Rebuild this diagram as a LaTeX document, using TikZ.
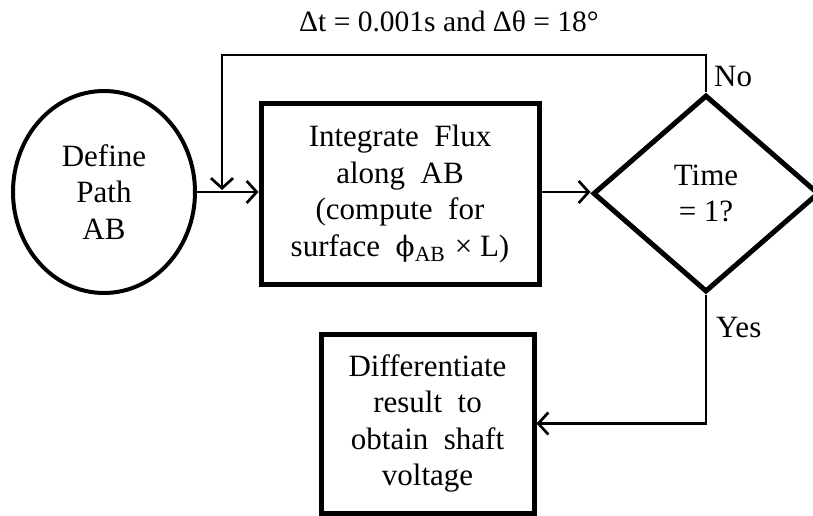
\documentclass[tikz,border=0pt]{standalone}
\usepackage{fontspec}
\setmainfont{Liberation Serif}
\newfontfamily\phifont{DejaVu Serif}
\usetikzlibrary{shapes.geometric,arrows.meta}
\begin{document}
\begin{tikzpicture}[x=1pt,y=-1pt,
  every node/.style={font=\fontsize{31}{36.5}\selectfont, inner sep=0pt},
  boxtxt/.style={draw, line width=5pt, align=center, execute at begin node={\spaceskip=0.5em plus 0.1em}},
  conn/.style={line width=2.7pt, line join=miter},
  arr/.style={conn, -{Straight Barb[length=10pt,width=22pt,line width=2.7pt]}}]
\useasboundingbox (0,0) rectangle (813,516);
\node[draw, ellipse, line width=4pt, minimum width=182pt, minimum height=202pt, align=center] (ell) at (104,192) {Define\\Path\\AB};
\node[boxtxt, minimum width=278pt, minimum height=180pt] (integ) at (400,194)
  {Integrate Flux\\along AB\\(compute for\\surface {\phifont\fontsize{28}{30}\selectfont ϕ}\textsubscript{AB}\hspace{0.3em}×\hspace{0.25em}L)};
\node[draw, diamond, aspect=1.15, line width=5pt, minimum width=226pt, minimum height=197pt, align=center] (dia) at (706,193.5) {Time\\= 1?};
\node[boxtxt, minimum width=213pt, minimum height=179pt] (diff) at (427.5,423.5)
  {Differentiate\\result to\\obtain shaft\\voltage};
\node[font=\fontsize{29.5}{36}\selectfont] (title) at (449,21) {Δt = 0.001s and Δθ = 18°};
\node[anchor=west] (no) at (714,77) {No};
\node[anchor=west] (yes) at (716,327) {Yes};
\coordinate (fbtop) at (222,55);
\coordinate (fbend) at (222,190);
\draw[arr] (ell.east) -- (ell.east -| integ.west);
\draw[arr] (integ.east |- 0,192) -- (dia.west |- 0,192);
\draw[arr] (dia.north) |- (fbtop) -- (fbend);
\draw[arr] (dia.south) |- (diff.east);
\end{tikzpicture}
\end{document}
